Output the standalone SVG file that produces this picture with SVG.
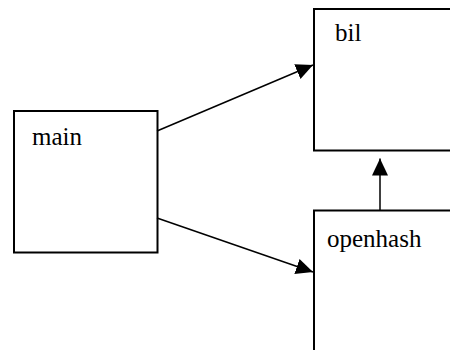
<svg xmlns="http://www.w3.org/2000/svg" width="450" height="350" viewBox="0 0 450 350">
<defs>
<style>
.box{fill:#fff;stroke:#000;stroke-width:2}
.lbl{font-family:"Liberation Serif","Times New Roman",Tinos,"DejaVu Serif",serif;font-size:25px;fill:#000}
.edge{stroke:#000;stroke-width:1.5;fill:none;marker-end:url(#ah)}
</style>
<marker id="ah" markerUnits="userSpaceOnUse" markerWidth="18" markerHeight="18" refX="17" refY="8" orient="auto" viewBox="0 0 18 16">
<path d="M0,0 L17,8 L0,16 z" fill="#000"/>
</marker>
</defs>
<g id="main">
<rect class="box" x="14" y="111" width="143.5" height="141.5"/>
<text class="lbl" x="32" y="145">main</text>
</g>
<g id="bil">
<rect class="box" x="314" y="9" width="150" height="141.5"/>
<text class="lbl" x="335" y="41">bil</text>
</g>
<g id="openhash">
<rect class="box" x="314" y="210.5" width="150" height="160"/>
<text class="lbl" x="327" y="246.5">openhash</text>
</g>
<g id="connectors">
<line class="edge" x1="157" y1="131" x2="313" y2="65"/>
<line class="edge" x1="157" y1="218" x2="313" y2="272"/>
<line class="edge" x1="380" y1="210" x2="380" y2="158.5"/>
</g>
</svg>
